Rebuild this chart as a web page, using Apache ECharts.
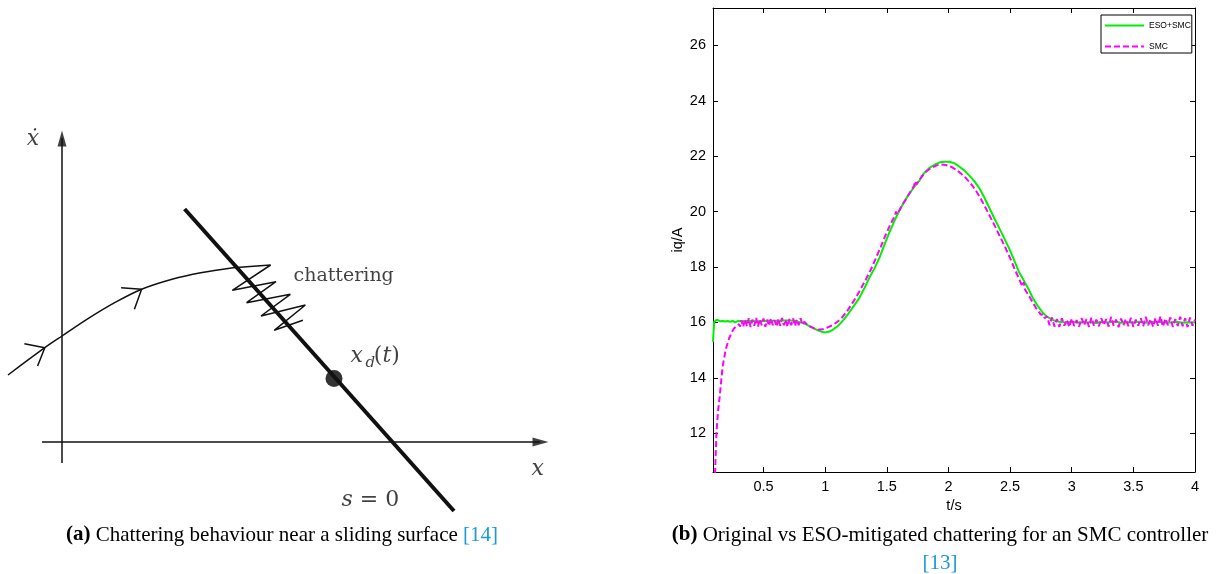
<!DOCTYPE html>
<html><head><meta charset="utf-8">
<script src="https://cdn.jsdelivr.net/npm/echarts@6/dist/echarts.min.js"></script>
<style>html,body{margin:0;padding:0;background:#fff}#c{width:1217px;height:574px}</style>
</head><body><div id="c"></div>
<script>
// ---------- Panel (b) data: iq/A vs t/s ----------
const xTicks = [0.5, 1, 1.5, 2, 2.5, 3, 3.5, 4];
const yTicks = [12, 14, 16, 18, 20, 22, 24, 26];
const seriesNames = ['ESO+SMC', 'SMC'];

const esoSmc = [
  [0.09,15.3],[0.095,15.7],[0.10,16.02],[0.11,16.08],[0.12,16.1],[0.13,16.05],[0.15,16.04],[0.17,16.05],
  [0.19,16.03],[0.21,16.05],[0.23,16.02],[0.25,16.06],[0.27,16.0],[0.29,16.05],[0.32,16.04],[0.36,16.05],
  [0.40,16.05],[0.45,16.04],[0.50,16.05],[0.55,16.06],[0.60,16.06],[0.65,16.07],[0.70,16.07],[0.75,16.06],
  [0.80,16.0],[0.85,15.92],[0.88,15.84],[0.92,15.76],[0.95,15.7],[0.98,15.65],[1.0,15.64],[1.03,15.66],
  [1.07,15.76],[1.11,15.9],[1.15,16.1],[1.19,16.33],[1.23,16.58],[1.275,16.87],[1.32,17.25],[1.357,17.6],
  [1.40,17.95],[1.44,18.33],[1.48,18.8],[1.52,19.24],[1.56,19.65],[1.60,20.02],[1.64,20.35],[1.68,20.63],
  [1.72,20.88],[1.765,21.12],[1.80,21.38],[1.847,21.58],[1.89,21.7],[1.93,21.78],[1.97,21.8],[2.01,21.8],
  [2.05,21.74],[2.09,21.62],[2.13,21.48],[2.17,21.3],[2.21,21.1],[2.25,20.85],[2.29,20.52],[2.33,20.15],
  [2.37,19.78],[2.41,19.42],[2.45,19.06],[2.49,18.69],[2.53,18.28],[2.57,17.84],[2.61,17.52],[2.65,17.2],
  [2.68,16.92],[2.72,16.62],[2.76,16.38],[2.80,16.2],[2.85,16.08],[2.90,16.02],[2.95,16.0],[3.0,16.02],
  [3.05,15.99],[3.1,16.01],[3.15,16.0],[3.2,15.98],[3.25,16.02],[3.3,16.0],[3.35,16.03],[3.4,15.99],
  [3.45,16.01],[3.5,16.0],[3.55,16.02],[3.6,15.99],[3.65,16.01],[3.7,16.02],[3.75,15.99],[3.8,16.0],
  [3.85,16.02],[3.9,15.99],[3.95,16.01],[4.0,16.0]
];

const smc = [
  [0.104,10.2],[0.11,11.0],[0.118,12.0],[0.13,12.75],[0.146,13.4],[0.16,14.05],[0.168,14.4],[0.18,14.7],
  [0.19,14.95],[0.20,15.12],[0.22,15.42],[0.24,15.62],[0.26,15.78],[0.28,15.86],[0.30,15.94],
  [0.31,15.85],[0.32,16.08],[0.335,15.84],[0.35,16.12],[0.365,15.86],[0.38,16.15],[0.395,15.83],[0.41,16.1],
  [0.425,15.88],[0.44,16.16],[0.455,15.85],[0.47,16.12],[0.485,15.9],[0.50,16.14],[0.515,15.84],[0.53,16.1],
  [0.545,15.87],[0.56,16.15],[0.575,15.9],[0.59,16.08],[0.605,15.85],[0.62,16.13],[0.635,15.88],[0.65,16.16],
  [0.665,15.9],[0.68,16.1],[0.695,15.84],[0.71,16.12],[0.725,15.9],[0.74,16.14],[0.755,15.87],[0.77,16.1],
  [0.785,15.9],[0.80,16.15],[0.815,15.92],[0.83,16.02],
  [0.86,15.9],[0.89,15.83],[0.92,15.77],[0.95,15.74],[0.98,15.75],[1.01,15.8],[1.05,15.88],[1.09,15.99],
  [1.13,16.14],[1.17,16.36],[1.21,16.62],[1.25,16.9],[1.29,17.22],[1.33,17.55],[1.37,17.9],[1.41,18.3],
  [1.45,18.72],[1.49,19.15],[1.53,19.55],[1.565,19.85],[1.575,20.0],[1.585,19.9],[1.62,20.2],[1.66,20.48],
  [1.70,20.78],[1.72,20.92],[1.73,21.1],[1.74,20.98],[1.78,21.25],[1.82,21.45],[1.86,21.58],[1.90,21.66],
  [1.94,21.7],[1.98,21.68],[2.02,21.62],[2.06,21.52],[2.10,21.38],[2.14,21.22],[2.18,21.02],[2.22,20.78],
  [2.26,20.48],[2.30,20.15],[2.34,19.8],[2.38,19.45],[2.42,19.08],[2.46,18.72],[2.50,18.32],[2.54,17.9],
  [2.58,17.5],[2.60,17.3],[2.61,17.45],[2.62,17.2],[2.65,16.98],[2.68,16.75],[2.71,16.52],[2.73,16.4],
  [2.75,16.28],[2.77,16.3],[2.78,16.15],
  [2.80,16.22],[2.82,15.9],[2.84,16.18],[2.86,15.85],[2.88,16.12],[2.90,15.84],[2.92,16.15],[2.94,15.88],
  [2.96,16.1],[2.98,15.83],[3.00,16.14],[3.02,15.87],[3.04,16.08],[3.06,15.85],[3.08,16.16],[3.10,15.9],
  [3.12,16.12],[3.14,15.84],[3.16,16.18],[3.18,15.88],[3.20,16.1],[3.22,15.86],[3.24,16.15],[3.26,15.9],
  [3.28,16.12],[3.30,15.85],[3.32,16.2],[3.34,15.88],[3.36,16.1],[3.38,15.83],[3.40,16.14],[3.42,15.9],
  [3.44,16.12],[3.46,15.86],[3.48,16.17],[3.50,15.84],[3.52,16.1],[3.54,15.88],[3.56,16.15],[3.58,15.86],
  [3.60,16.2],[3.62,15.9],[3.64,16.12],[3.66,15.84],[3.68,16.16],[3.70,15.88],[3.72,16.22],[3.74,15.85],
  [3.76,16.14],[3.78,15.9],[3.80,16.18],[3.82,15.84],[3.84,16.12],[3.86,15.87],[3.88,16.2],[3.90,15.86],
  [3.92,16.15],[3.94,15.83],[3.96,16.18],[3.98,15.88],[4.00,16.1]
];

// ---------- Panel (a) diagram geometry (phase-plane units) ----------
const phaseXAxis = [[-2.0, 0], [47.8, 0]];
const phaseXArrow = [[47.85, 0]];
const phaseYAxis = [[0, -2.1], [0, 30.4]];
const phaseYArrow = [[0, 30.35]];
const slidingSurface = [[12.26, 23.3], [39.2, -6.9]];
const targetPoint = [[27.2, 6.35]];
const trajectory = [[-5.4,6.7],[-1.72,9.43],[0,10.6],[2.76,12.43],[5.27,13.93],[7.96,15.27],[11.0,16.27],[13.87,16.93],[17.1,17.43]];
const chatterPath = [[17.1,17.43],[20.86,17.7],[17.03,15.17],[21.4,16.03],[18.46,13.93],[22.83,14.77],[19.9,12.6],[24.34,13.7],[21.22,11.17],[24.09,12.17]];
const chevronA = [[-3.76,9.83],[-1.72,9.43],[-2.44,7.6]];
const chevronB = [[5.91,15.43],[7.96,15.27],[7.24,13.27]];
const phaseLabels = {
  xdot: [-2.9, 30.3],
  x: [47.56, -2.75],
  chattering: [23.1, 16.6],
  xd_x: [28.8, 8.55],
  xd_d: [30.3, 7.85],
  xd_t: [31.13, 8.55],
  s0: [27.9, -5.8]
};

const captionA = ['(a)', ' Chattering behaviour near a sliding surface ', '[14]'];
const captionB = ['(b)', ' Original vs ESO-mitigated chattering for an SMC controller', '[13]'];

const serif = 'DejaVu Serif';
const ink = '#111';
const sans = 'Liberation Sans, Arial, sans-serif';
const capSize = 21;

function lbl(pos, text, opts) {
  return { value: pos, label: Object.assign({ show: true, formatter: text, fontFamily: serif, color: ink }, opts) };
}

const chart = echarts.init(document.getElementById('c'), null, { renderer: 'canvas' });

const option = {
  animation: false,
  backgroundColor: '#fff',
  grid: [
    { left: 0, top: 100, width: 560, height: 420 },
    { left: 713, top: 8, width: 482, height: 464 }
  ],
  xAxis: [
    { gridIndex: 0, type: 'value', min: -6.2, max: 49.8, show: false },
    { gridIndex: 1, type: 'value', min: 0.09, max: 4, position: 'bottom',
      axisLine: { onZero: false, lineStyle: { color: '#000', width: 1 } },
      axisTick: { inside: true, length: 5, customValues: xTicks, lineStyle: { color: '#000' } },
      axisLabel: { customValues: xTicks, color: '#000', fontSize: 14.5, fontFamily: sans, margin: 7 },
      splitLine: { show: false },
      name: 't/s', nameLocation: 'middle', nameGap: 19,
      nameTextStyle: { color: '#000', fontSize: 14.5, fontFamily: sans } },
    { gridIndex: 1, type: 'value', min: 0.09, max: 4, position: 'top',
      axisLine: { onZero: false, lineStyle: { color: '#000', width: 1 } },
      axisTick: { inside: true, length: 5, customValues: xTicks, lineStyle: { color: '#000' } },
      axisLabel: { show: false }, splitLine: { show: false } }
  ],
  yAxis: [
    { gridIndex: 0, type: 'value', min: -7.8, max: 34.2, show: false },
    { gridIndex: 1, type: 'value', min: 10.6, max: 27.35, position: 'left',
      axisLine: { onZero: false, lineStyle: { color: '#000', width: 1 } },
      axisTick: { inside: true, length: 5, customValues: yTicks, lineStyle: { color: '#000' } },
      axisLabel: { customValues: yTicks, color: '#000', fontSize: 14.5, fontFamily: sans, margin: 7 },
      splitLine: { show: false },
      name: 'iq/A', nameLocation: 'middle', nameGap: 22,
      nameTextStyle: { color: '#000', fontSize: 14.5, fontFamily: sans } },
    { gridIndex: 1, type: 'value', min: 10.6, max: 27.35, position: 'right',
      axisLine: { onZero: false, lineStyle: { color: '#000', width: 1 } },
      axisTick: { inside: true, length: 5, customValues: yTicks, lineStyle: { color: '#000' } },
      axisLabel: { show: false }, splitLine: { show: false } }
  ],
  legend: {
    data: seriesNames, orient: 'vertical', left: 1101, top: 15,
    borderColor: '#000', borderWidth: 1, borderRadius: 0, backgroundColor: '#fff',
    padding: [6, 1, 2, 3], itemGap: 12, itemWidth: 39, itemHeight: 10,
    itemStyle: { opacity: 0, borderWidth: 0 },
    textStyle: { fontSize: 8.5, fontFamily: sans, color: '#000' }
  },
  graphic: [
    { type: 'text', x: 282, y: 535, style: {
      text: '{b|' + captionA[0] + '}{n|' + captionA[1] + '}{c|' + captionA[2] + '}',
      align: 'center', verticalAlign: 'middle',
      rich: {
        b: { fontFamily: 'Liberation Serif', fontSize: capSize, fontWeight: 'bold', fill: '#000' },
        n: { fontFamily: 'Liberation Serif', fontSize: capSize, fill: '#000' },
        c: { fontFamily: 'Liberation Serif', fontSize: capSize, fill: '#1c9ad6' }
      } } },
    { type: 'text', x: 940, y: 535, style: {
      text: '{b|' + captionB[0] + '}{n|' + captionB[1] + '}',
      align: 'center', verticalAlign: 'middle',
      rich: {
        b: { fontFamily: 'Liberation Serif', fontSize: capSize, fontWeight: 'bold', fill: '#000' },
        n: { fontFamily: 'Liberation Serif', fontSize: capSize, fill: '#000' }
      } } },
    { type: 'text', x: 940, y: 563, style: {
      text: captionB[2], align: 'center', verticalAlign: 'middle',
      fontFamily: 'Liberation Serif', fontSize: capSize, fill: '#1c9ad6' } }
  ],
  series: [
    // ---- panel (a)
    { type: 'line', xAxisIndex: 0, yAxisIndex: 0, data: phaseXAxis, symbol: 'none', silent: true,
      lineStyle: { color: ink, width: 1.5 } },
    { type: 'line', xAxisIndex: 0, yAxisIndex: 0, data: phaseYAxis, symbol: 'none', silent: true,
      lineStyle: { color: ink, width: 1.5 } },
    { type: 'scatter', xAxisIndex: 0, yAxisIndex: 0, data: phaseXArrow, symbol: 'triangle',
      symbolSize: [9, 16], symbolRotate: -90, itemStyle: { color: ink }, silent: true },
    { type: 'scatter', xAxisIndex: 0, yAxisIndex: 0, data: phaseYArrow, symbol: 'triangle',
      symbolSize: [9, 16], itemStyle: { color: ink }, silent: true },
    { type: 'line', xAxisIndex: 0, yAxisIndex: 0, data: slidingSurface, symbol: 'none', silent: true,
      lineStyle: { color: ink, width: 4 } },
    { type: 'line', xAxisIndex: 0, yAxisIndex: 0, data: trajectory, symbol: 'none', smooth: 0.35, silent: true,
      lineStyle: { color: ink, width: 1.5 } },
    { type: 'line', xAxisIndex: 0, yAxisIndex: 0, data: chatterPath, symbol: 'none', silent: true,
      lineStyle: { color: ink, width: 1.5 } },
    { type: 'line', xAxisIndex: 0, yAxisIndex: 0, data: chevronA, symbol: 'none', silent: true,
      lineStyle: { color: ink, width: 1.5 } },
    { type: 'line', xAxisIndex: 0, yAxisIndex: 0, data: chevronB, symbol: 'none', silent: true,
      lineStyle: { color: ink, width: 1.5 } },
    { type: 'scatter', xAxisIndex: 0, yAxisIndex: 0, data: targetPoint, symbol: 'circle', symbolSize: 17,
      itemStyle: { color: '#000' }, silent: true },
    { type: 'scatter', xAxisIndex: 0, yAxisIndex: 0, symbolSize: 1, silent: true,
      itemStyle: { color: 'rgba(0,0,0,0)' },
      data: [
        lbl(phaseLabels.xdot, '\u1E8B', { position: 'inside', fontStyle: 'italic', fontSize: 22 }),
        lbl(phaseLabels.x, 'x', { position: 'inside', fontStyle: 'italic', fontSize: 22 }),
        lbl(phaseLabels.chattering, 'chattering', { position: 'right', distance: 0, fontSize: 19 }),
        lbl(phaseLabels.xd_x, 'x', { position: 'right', distance: 0, fontStyle: 'italic', fontSize: 22 }),
        lbl(phaseLabels.xd_d, 'd', { position: 'right', distance: 0, fontStyle: 'italic', fontSize: 15 }),
        lbl(phaseLabels.xd_t, '{r|(}{i|t}{r|)}', { position: 'right', distance: 0, fontSize: 22,
          rich: { r: { fontFamily: serif, fontSize: 22, color: ink }, i: { fontFamily: serif, fontSize: 22, fontStyle: 'italic', color: ink } } }),
        lbl(phaseLabels.s0, '{i|s}{r| = 0}', { position: 'right', distance: 0, fontSize: 22,
          rich: { r: { fontFamily: serif, fontSize: 22, color: ink }, i: { fontFamily: serif, fontSize: 22, fontStyle: 'italic', color: ink } } })
      ] },
    // ---- panel (b)
    { name: seriesNames[0], type: 'line', xAxisIndex: 1, yAxisIndex: 1, data: esoSmc, symbol: 'none',
      clip: true, color: '#00f000', lineStyle: { color: '#00f000', width: 2 } },
    { name: seriesNames[1], type: 'line', xAxisIndex: 1, yAxisIndex: 1, data: smc, symbol: 'none',
      clip: true, color: '#ff00ff', lineStyle: { color: '#ff00ff', width: 2, type: [6, 3] } }
  ]
};
chart.setOption(option);
</script></body></html>
